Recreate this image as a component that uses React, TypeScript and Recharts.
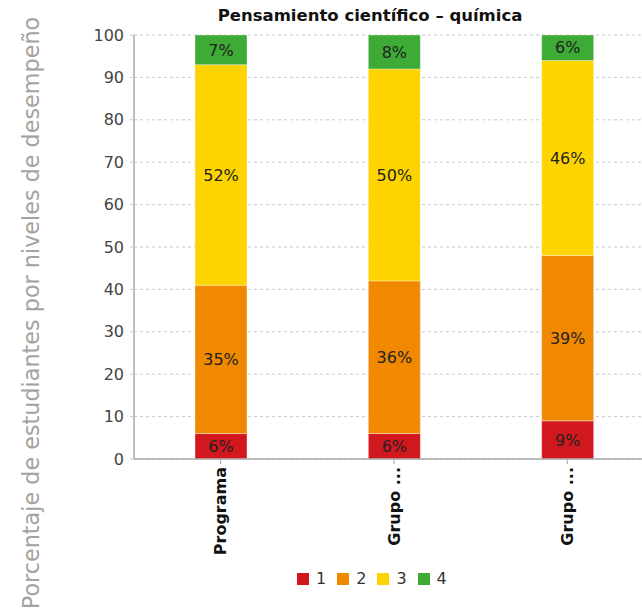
import React from "react";
import { BarChart, Bar, XAxis, YAxis, CartesianGrid, Legend, LabelList } from "recharts";

const categories = ["Programa", "Grupo ...", "Grupo ..."];
const nivel1 = [6, 6, 9];
const nivel2 = [35, 36, 39];
const nivel3 = [52, 50, 46];
const nivel4 = [7, 8, 6];
const seriesNames = ["1", "2", "3", "4"];
const seriesColors = ["#d2181f", "#f08800", "#fed400", "#3dab35"];
const yTicks = [0, 10, 20, 30, 40, 50, 60, 70, 80, 90, 100];
const title = "Pensamiento científico – química";
const yLabel = "Porcentaje de estudiantes por niveles de desempeño";

const data = categories.map((c, i) => ({
  idx: i,
  name: c,
  n1: nivel1[i],
  n2: nivel2[i],
  n3: nivel3[i],
  n4: nivel4[i],
}));
const keys = ["n1", "n2", "n3", "n4"];

const XTick = (props: any) => {
  const { x, y, payload } = props;
  const label = categories[payload.value] ?? "";
  return (
    <text
      x={x}
      y={y + 1}
      transform={`rotate(-90, ${x}, ${y + 1})`}
      textAnchor="end"
      dy="0.35em"
      fontSize={16}
      fontWeight="bold"
      fill="#111"
    >
      {label}
    </text>
  );
};

const YLabel = () => (
  <text
    x={39}
    y={313}
    transform="rotate(-90, 39, 313)"
    textAnchor="middle"
    fontSize={22.3}
    fill="#a3a3a3"
  >
    {yLabel}
  </text>
);

const LegendContent = (props: any) => {
  const payload = props.payload || [];
  return (
    <div style={{ display: "flex", alignItems: "center", fontFamily: "DejaVu Sans" }}>
      {payload.map((p: any, i: number) => (
        <div key={i} style={{ display: "flex", alignItems: "center", marginRight: 11 }}>
          <div style={{ width: 12, height: 12, background: p.color, marginRight: 7 }} />
          <span style={{ fontSize: 16, color: "#333", lineHeight: "18px" }}>{p.value}</span>
        </div>
      ))}
    </div>
  );
};

export default function App() {
  return (
    <div
      style={{
        position: "absolute",
        left: 0,
        top: 0,
        width: 642,
        height: 616,
        overflow: "hidden",
        background: "#fff",
        fontFamily: "DejaVu Sans",
      }}
    >
      <div
        style={{
          position: "absolute",
          left: 0,
          top: 6,
          width: 740,
          textAlign: "center",
          fontSize: 16.5,
          fontWeight: "bold",
          lineHeight: "20px",
          color: "#111",
          zIndex: 2,
        }}
      >
        {title}
      </div>
      <BarChart
        width={660}
        height={616}
        data={data}
        margin={{ top: 35, right: 6, left: 0, bottom: 57 }}
        barSize={52}
      >
        <CartesianGrid vertical={false} strokeDasharray="3 3" stroke="#c8c8c8" />
        <XAxis
          dataKey="idx"
          type="category"
          height={100}
          tick={<XTick />}
          tickSize={5}
          tickMargin={2}
          axisLine={{ stroke: "#aaa", strokeWidth: 1.5 }}
          tickLine={{ stroke: "#aaa" }}
          interval={0}
        />
        <YAxis
          width={134}
          domain={[0, 100]}
          ticks={yTicks}
          tickSize={4}
          tickMargin={6}
          tick={{ fontSize: 16, fill: "#444" }}
          axisLine={{ stroke: "#aaa", strokeWidth: 1.5 }}
          tickLine={{ stroke: "#ccc" }}
          label={{ content: () => <YLabel /> }}
          allowDataOverflow
        />
        <Legend
          layout="horizontal"
          verticalAlign="middle"
          align="center"
          content={<LegendContent />}
          wrapperStyle={{ position: "absolute", left: 297, top: 570, width: "auto" }}
        />
        {keys.map((k, i) => (
          <Bar
            key={k}
            dataKey={k}
            name={seriesNames[i]}
            stackId="a"
            fill={seriesColors[i]}
            stroke="rgba(255,255,255,0.35)"
            strokeWidth={1}
            isAnimationActive={false}
          >
            <LabelList
              dataKey={k}
              position="center"
              formatter={(v: any) => `${v}%`}
              fill="#222"
              fontSize={16}
            />
          </Bar>
        ))}
      </BarChart>
    </div>
  );
}
